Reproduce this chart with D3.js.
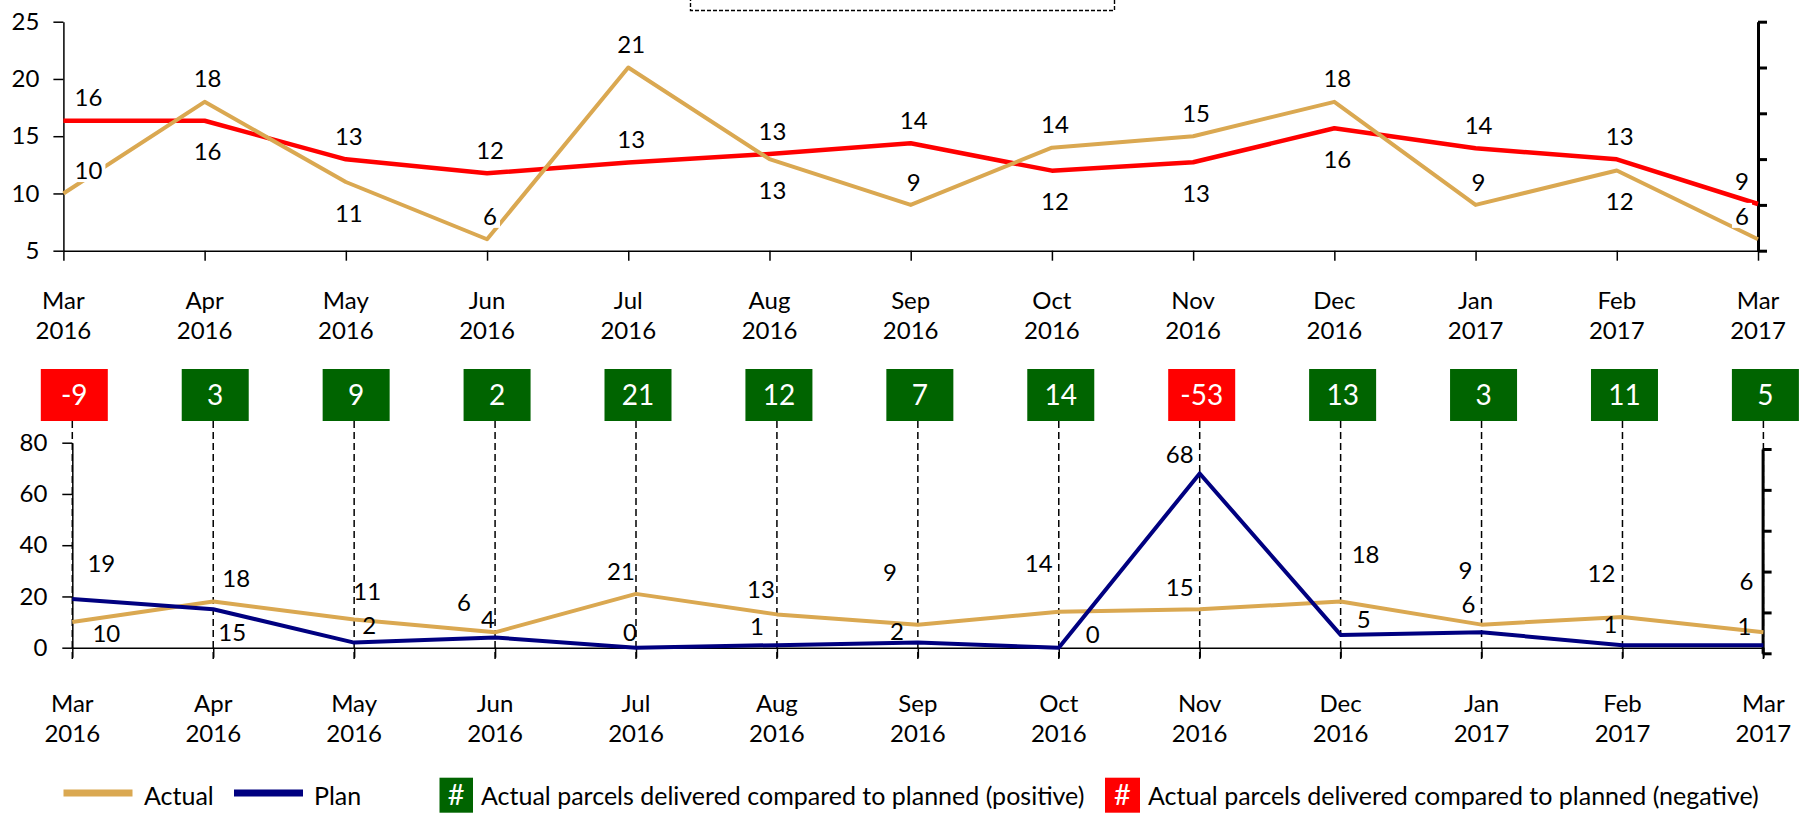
<!DOCTYPE html>
<html>
<head>
<meta charset="utf-8">
<script src="https://cdn.jsdelivr.net/npm/d3@7"></script>
<style>
  body { margin: 0; background: #fff; }
  svg { font-family: Lato, "Open Sans", sans-serif; }
</style>
</head>
<body>
<script>
// months on both x axes
const months = ["Mar 2016","Apr 2016","May 2016","Jun 2016","Jul 2016","Aug 2016","Sep 2016",
                "Oct 2016","Nov 2016","Dec 2016","Jan 2017","Feb 2017","Mar 2017"];
// parcels delivered
const actual = [10, 18, 11, 6, 21, 13, 9, 14, 15, 18, 9, 12, 6];
// red reference line of the upper chart
const average = [16.35, 16.35, 12.98, 11.76, 12.7, 13.45, 14.38, 11.99, 12.72, 15.69, 13.94, 12.98, 9.08];
// planned parcels
const plan = [19, 15, 2, 4, 0, 1, 2, 0, 68, 5, 6, 1, 1];
const topTicks = [5, 10, 15, 20, 25];
const bottomTicks = [0, 20, 40, 60, 80];

// hand placed label nudges of the lower chart [dx, dy]
const planNudge = [[29,-36],[19,23],[15,-17],[-7,-18],[-6,-15],[-20,-19],[-21,-11],[34,-13],[-20,-19],[23,-16],[-13,-28],[-12,-21],[-19,-19]];
const actualNudge = [[34,11],[23,-23],[13,-28],[-31,-30],[-15,-23],[-16,-25],[-28,-52],[-20,-48],[-20,-22],[25,-47],[-16,-54],[-21,-44],[-17,-51]];

const tan = '#DAA851', navy = '#000080', red = '#FF0000', green = '#006400';
const fmt = d3.format('.0f');

const svg = d3.select('body').append('svg')
    .attr('width', 1809)
    .attr('height', 813);

function styleAxis(g, width) {
    g.attr('font-family', null).attr('font-size', 24);
    g.selectAll('path.domain').attr('stroke-width', width || 1.5);
    g.selectAll('.tick line').attr('stroke-width', width || 1.5);
    g.selectAll('.tick text').attr('fill', '#000');
}

function monthLabels(x, base) {
    svg.append('g')
        .selectAll('text')
        .data(months)
        .enter()
        .append('text')
        .attr('x', d => x(d))
        .attr('y', base)
        .attr('text-anchor', 'middle')
        .attr('font-size', 24)
        .each(function(d) {
            const parts = d.split(' ');
            d3.select(this).append('tspan').attr('x', x(d)).text(parts[0]);
            d3.select(this).append('tspan').attr('x', x(d)).attr('dy', 30).text(parts[1]);
        });
}

function addLabel(g, x, y, txt, withBg) {
    const lg = g.append('g');
    const bg = lg.append('rect').attr('fill', '#fff');
    const t = lg.append('text')
        .attr('x', x)
        .attr('y', y)
        .attr('dy', '0.36em')
        .attr('text-anchor', 'middle')
        .attr('font-size', 24)
        .text(txt);
    if (withBg) {
        const b = t.node().getBBox();
        bg.attr('x', b.x - 3).attr('y', b.y + 2).attr('width', b.width + 6).attr('height', b.height - 4);
    } else {
        bg.remove();
    }
}

// ---------- upper chart ----------
const xTop = d3.scalePoint().domain(months).range([63.4, 1758]);
const yTop = d3.scaleLinear().domain([5, 25]).range([250.7, 21.7]);

svg.append('g')
    .attr('transform', 'translate(63.4,0)')
    .call(d3.axisLeft(yTop).tickValues(topTicks).tickSize(10).tickSizeOuter(0).tickPadding(14))
    .call(g => styleAxis(g));
svg.append('g')
    .attr('transform', 'translate(0,250.7)')
    .call(d3.axisBottom(xTop).tickSize(10).tickSizeOuter(0).tickFormat(''))
    .call(g => styleAxis(g));
svg.append('g')
    .attr('transform', 'translate(1758,0)')
    .call(d3.axisRight(d3.scaleLinear().domain([0, 5]).range([250.7, 21.7])).ticks(5).tickSize(9).tickSizeOuter(0).tickFormat(''))
    .call(g => styleAxis(g, 3));
monthLabels(xTop, 308.5);

// legend box cut off at top
svg.append('rect')
    .attr('x', 690.5).attr('y', -20).attr('width', 424).attr('height', 30.5)
    .attr('fill', 'none').attr('stroke', '#000').attr('stroke-width', 1.4)
    .attr('stroke-dasharray', '4,2');

const lineTop = d3.line().x((d, i) => xTop(months[i])).y(d => yTop(d));
svg.append('path').datum(average).attr('d', lineTop)
    .attr('fill', 'none').attr('stroke', red).attr('stroke-width', 4.5).attr('stroke-linejoin', 'round');
svg.append('path').datum(actual).attr('d', lineTop)
    .attr('fill', 'none').attr('stroke', tan).attr('stroke-width', 4).attr('stroke-linejoin', 'round');

const topLabels = svg.append('g');
months.forEach((m, i) => {
    const ya = yTop(actual[i]), yr = yTop(average[i]);
    const gap = Math.abs(ya - yr);
    const dx = i === 0 ? 25 : (i === months.length - 1 ? -16 : 3);
    const aAbove = ya <= yr || gap > 30;
    const rAbove = yr < ya || gap > 30;
    addLabel(topLabels, xTop(m) + dx, yr + (rAbove ? -23 : 31), fmt(average[i]), true);
    addLabel(topLabels, xTop(m) + dx, ya + (aAbove ? -23 : 31), fmt(actual[i]), true);
});

// ---------- lower chart ----------
const xBot = d3.scalePoint().domain(months).range([72.3, 1763.4]);
const yBot = d3.scaleLinear().domain([0, 80]).range([647.7, 442.7]);

// dashed drop lines from the difference boxes
svg.append('g')
    .selectAll('line')
    .data(months)
    .enter()
    .append('line')
    .attr('x1', d => xBot(d)).attr('x2', d => xBot(d))
    .attr('y1', 421).attr('y2', 660)
    .attr('stroke', '#000').attr('stroke-width', 1.5).attr('stroke-dasharray', '7,4');

svg.append('g')
    .attr('transform', 'translate(72.3,0)')
    .call(d3.axisLeft(yBot).tickValues(bottomTicks).tickSize(10).tickSizeOuter(0).tickPadding(15))
    .call(g => styleAxis(g));
svg.append('g')
    .attr('transform', 'translate(0,647.7)')
    .call(d3.axisBottom(xBot).tickSize(10).tickSizeOuter(0).tickFormat(''))
    .call(g => styleAxis(g));
svg.append('g')
    .attr('transform', 'translate(1762.6,0)')
    .call(d3.axisRight(d3.scaleLinear().domain([0, 5]).range([653.3, 449])).ticks(5).tickSize(9).tickSizeOuter(0).tickFormat(''))
    .call(g => styleAxis(g, 3));
monthLabels(xBot, 712);

const lineBot = d3.line().x((d, i) => xBot(months[i])).y(d => yBot(d));
svg.append('path').datum(actual).attr('d', lineBot)
    .attr('fill', 'none').attr('stroke', tan).attr('stroke-width', 4).attr('stroke-linejoin', 'round');
svg.append('path').datum(plan).attr('d', lineBot)
    .attr('fill', 'none').attr('stroke', navy).attr('stroke-width', 4).attr('stroke-linejoin', 'round');

const botLabels = svg.append('g');
months.forEach((m, i) => {
    addLabel(botLabels, xBot(m) + planNudge[i][0], yBot(plan[i]) + planNudge[i][1], fmt(plan[i]), false);
    addLabel(botLabels, xBot(m) + actualNudge[i][0], yBot(actual[i]) + actualNudge[i][1], fmt(actual[i]), false);
});

// difference boxes
const diff = actual.map((d, i) => d - plan[i]);
const boxes = svg.append('g')
    .selectAll('g')
    .data(diff)
    .enter()
    .append('g')
    .attr('transform', (d, i) => `translate(${xBot(months[i]) + 2},395)`);
boxes.append('rect')
    .attr('x', -33.5).attr('y', -26).attr('width', 67).attr('height', 52)
    .attr('fill', d => d < 0 ? red : green);
boxes.append('text')
    .attr('text-anchor', 'middle')
    .attr('dy', '0.36em')
    .attr('font-size', 28)
    .attr('fill', '#fff')
    .text(d => d);

// ---------- legend ----------
const legend = svg.append('g').attr('font-size', 25);
legend.append('rect').attr('x', 63.5).attr('y', 789.5).attr('width', 69).attr('height', 7).attr('fill', tan);
legend.append('text').attr('x', 144).attr('y', 805).text('Actual');
legend.append('rect').attr('x', 234).attr('y', 789.5).attr('width', 69).attr('height', 7).attr('fill', navy);
legend.append('text').attr('x', 314).attr('y', 805).text('Plan');

legend.append('rect').attr('x', 439.5).attr('y', 777.7).attr('width', 33.5).attr('height', 35).attr('fill', green);
legend.append('text').attr('x', 456.2).attr('y', 805).attr('text-anchor', 'middle').attr('font-size', 29).attr('fill', '#fff').text('#');
legend.append('text').attr('x', 481).attr('y', 805).text('Actual parcels delivered compared to planned (positive)');
legend.append('rect').attr('x', 1105).attr('y', 777.7).attr('width', 35).attr('height', 35).attr('fill', red);
legend.append('text').attr('x', 1122.5).attr('y', 805).attr('text-anchor', 'middle').attr('font-size', 29).attr('fill', '#fff').text('#');
legend.append('text').attr('x', 1148).attr('y', 805).text('Actual parcels delivered compared to planned (negative)');
</script>
</body>
</html>
